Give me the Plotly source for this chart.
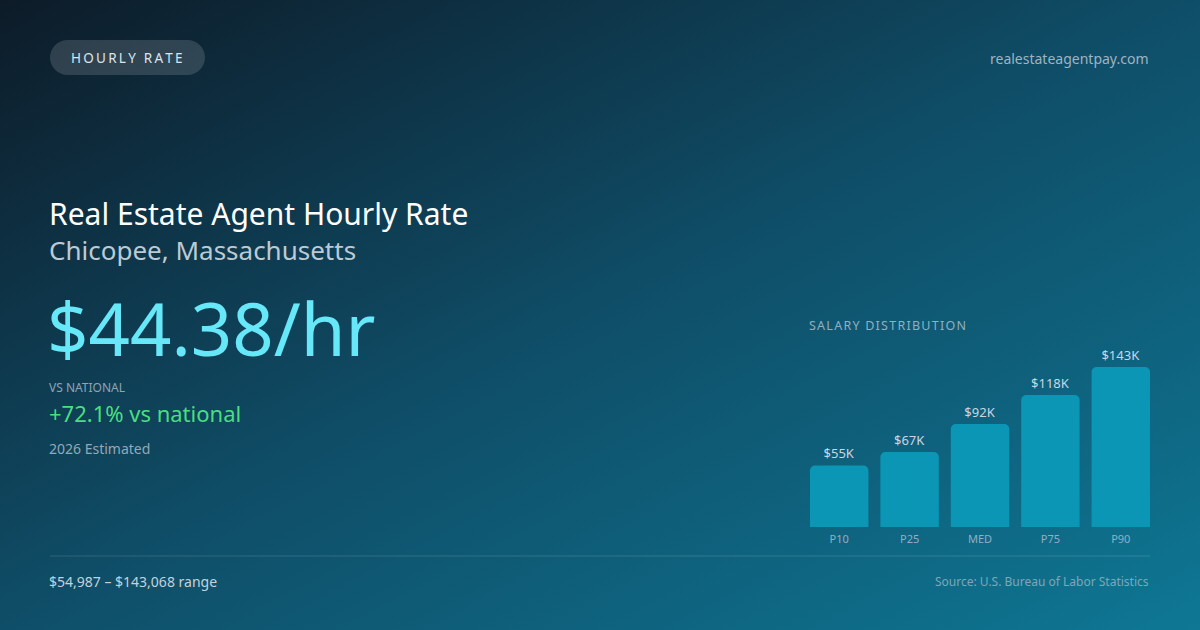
import base64

import plotly.graph_objects as go

W, H = 1200, 630

PERCENTILES = ["P10", "P25", "MED", "P75", "P90"]
SALARY_K = [55, 67, 92, 118, 143]

HOURLY_RATE = 44.38
VS_NATIONAL_PCT = 72.1
RANGE_LOW = 54987
RANGE_HIGH = 143068
ESTIMATE_YEAR = 2026

TITLE = "Real Estate Agent Hourly Rate"
LOCATION = "Chicopee, Massachusetts"
SITE = "realestateagentpay.com"
SOURCE = "Source: U.S. Bureau of Labor Statistics"

FONT = "Noto Sans"


def px(x):
    return x / W


def py(y):
    return 1 - y / H


def spaced(text, gap="\u2006"):
    return gap.join(text)


def rounded_rect_path(x0, y0, x1, y1, r):
    # pixel coords in, paper coords out; bezier corners survive the affine map
    k = 0.5523 * r
    pts = [
        ("M", [(x0 + r, y0)]),
        ("L", [(x1 - r, y0)]),
        ("C", [(x1 - r + k, y0), (x1, y0 + r - k), (x1, y0 + r)]),
        ("L", [(x1, y1 - r)]),
        ("C", [(x1, y1 - r + k), (x1 - r + k, y1), (x1 - r, y1)]),
        ("L", [(x0 + r, y1)]),
        ("C", [(x0 + r - k, y1), (x0, y1 - r + k), (x0, y1 - r)]),
        ("L", [(x0, y0 + r)]),
        ("C", [(x0, y0 + r - k), (x0 + r - k, y0), (x0 + r, y0)]),
    ]
    out = []
    for cmd, coords in pts:
        out.append(cmd + " ".join(f"{px(a):.5f},{py(b):.5f}" for a, b in coords))
    return " ".join(out) + " Z"


svg_bg = f"""<svg xmlns="http://www.w3.org/2000/svg" width="{W}" height="{H}">
<defs><linearGradient id="g" x1="0" y1="0" x2="1" y2="1">
<stop offset="0" stop-color="#0d1b28"/>
<stop offset="0.5" stop-color="#0f4e68"/>
<stop offset="1" stop-color="#0e7794"/>
</linearGradient></defs>
<rect width="{W}" height="{H}" fill="url(#g)"/></svg>"""
bg_uri = "data:image/svg+xml;base64," + base64.b64encode(svg_bg.encode()).decode()

fig = go.Figure()
fig.add_trace(
    go.Bar(
        x=PERCENTILES,
        y=SALARY_K,
        texttemplate="$%{y}K",
        textposition="outside",
        textfont={"family": FONT, "size": 13, "color": "#cbd5e1"},
        marker={"color": "#0a96b4", "cornerradius": 5, "line": {"width": 0}},
        cliponaxis=False,
        hoverinfo="skip",
    )
)

# 143K bar is 160px tall in the reference
bar_px = 160
y_head = 1.3
bar_bottom = 527

annotations = [
    {"x": px(127), "y": py(58), "text": spaced("HOURLY RATE"), "font": {"size": 13.5, "color": "#dbe4ec"}},
    {"x": px(1150), "y": py(58), "text": SITE, "xanchor": "right", "font": {"size": 14, "color": "#9fb3c2"}},
    {"x": px(47), "y": py(213), "text": TITLE, "xanchor": "left", "font": {"size": 30, "color": "#ffffff"}},
    {"x": px(47), "y": py(250), "text": LOCATION, "xanchor": "left", "font": {"size": 26, "color": "#bccad4"}},
    {"x": px(45), "y": py(327), "text": f"${HOURLY_RATE:.2f}/hr", "xanchor": "left", "font": {"size": 72.5, "color": "#67e8f9"}},
    {"x": px(47), "y": py(387), "text": "VS NATIONAL", "xanchor": "left", "font": {"size": 12, "color": "#8ea5b5"}},
    {"x": px(47), "y": py(413), "text": f"+{VS_NATIONAL_PCT:.1f}% vs national", "xanchor": "left", "font": {"size": 22, "color": "#4ade80"}},
    {"x": px(47), "y": py(448), "text": f"{ESTIMATE_YEAR} Estimated", "xanchor": "left", "font": {"size": 14, "color": "#94a8b7"}},
    {"x": px(807), "y": py(325), "text": spaced("SALARY DISTRIBUTION", "\u200a"), "xanchor": "left", "font": {"size": 12.5, "color": "#8fb0c2"}},
    {"x": px(47), "y": py(581), "text": f"${RANGE_LOW:,} – ${RANGE_HIGH:,} range", "xanchor": "left", "font": {"size": 14, "color": "#c3d2dc"}},
    {"x": px(1151), "y": py(581), "text": SOURCE, "xanchor": "right", "font": {"size": 12, "color": "#7fa6ba"}},
]
for a in annotations:
    a.update({"xref": "paper", "yref": "paper", "showarrow": False, "yanchor": "middle"})
    a.setdefault("xanchor", "center")
    a["font"].setdefault("family", FONT)

fig.update_layout(
    width=W,
    height=H,
    margin={"l": 0, "r": 0, "t": 0, "b": 0},
    paper_bgcolor="#0f4d66",
    plot_bgcolor="rgba(0,0,0,0)",
    showlegend=False,
    bargap=0.17,
    font={"family": FONT},
    images=[
        {
            "source": bg_uri,
            "xref": "paper",
            "yref": "paper",
            "x": 0,
            "y": 1,
            "sizex": 1,
            "sizey": 1,
            "sizing": "stretch",
            "layer": "below",
        }
    ],
    xaxis={
        # half a gap outside the first and last bar
        "domain": [px(804), px(1156)],
        "showgrid": False,
        "zeroline": False,
        "showline": False,
        "ticks": "",
        "tickfont": {"family": FONT, "size": 11, "color": "#8fb0c2"},
        "ticklabelstandoff": 4,
        "fixedrange": True,
    },
    yaxis={
        "domain": [py(bar_bottom), py(bar_bottom - bar_px * y_head)],
        "range": [0, max(SALARY_K) * y_head],
        "visible": False,
        "fixedrange": True,
    },
    shapes=[
        {
            "type": "path",
            "xref": "paper",
            "yref": "paper",
            "path": rounded_rect_path(50, 40, 205, 75, 17.5),
            "fillcolor": "rgba(255,255,255,0.14)",
            "line": {"width": 0},
            "layer": "below",
        },
        {
            "type": "line",
            "xref": "paper",
            "yref": "paper",
            "x0": px(50),
            "x1": px(1150),
            "y0": py(556),
            "y1": py(556),
            "line": {"color": "rgba(255,255,255,0.14)", "width": 1},
        },
    ],
    annotations=annotations,
)

fig.write_html(
    "out.html",
    config={"displayModeBar": False},
    post_script="document.body.style.margin='0';document.body.style.overflow='hidden';",
)
